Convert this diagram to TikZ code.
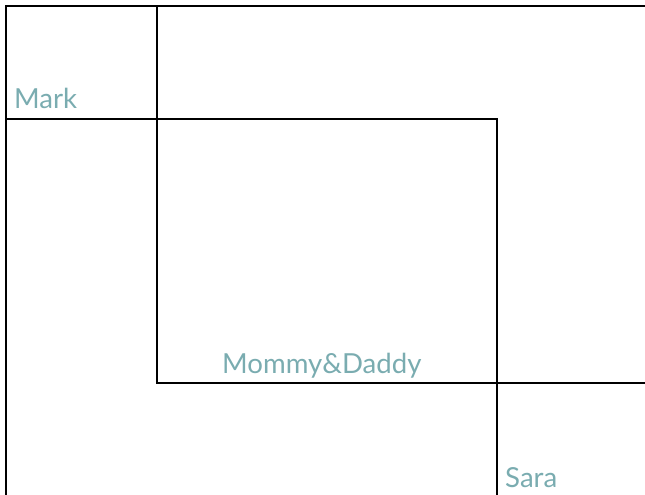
\documentclass[tikz,border=0pt]{standalone}
\usepackage{fontspec}
\setmainfont{Lato}
\definecolor{teal1}{RGB}{122,172,176}
\begin{document}
\begin{tikzpicture}[x=1pt,y=-1pt,
  box/.style={draw=black,line width=1.2pt},
  lbl/.style={anchor=base west,inner sep=0pt,text=teal1,font=\fontsize{27.6}{32}\selectfont}]
\useasboundingbox (0,0) rectangle (645,495);
\begin{scope}
\clip (0,0) rectangle (645,495);
\draw[box] (6,6) rectangle (700,560);
\draw[box] (6,6) rectangle (157,119);
\draw[box] (157,119) rectangle (497,383);
\draw[box] (497,383) rectangle (700,560);
\end{scope}
\node[lbl] (mark) at (14,108) {Mark};
\node[lbl] (md) at (222,373) {Mommy\&Daddy};
\node[lbl] (sara) at (505,487) {Sara};
\end{tikzpicture}
\end{document}
